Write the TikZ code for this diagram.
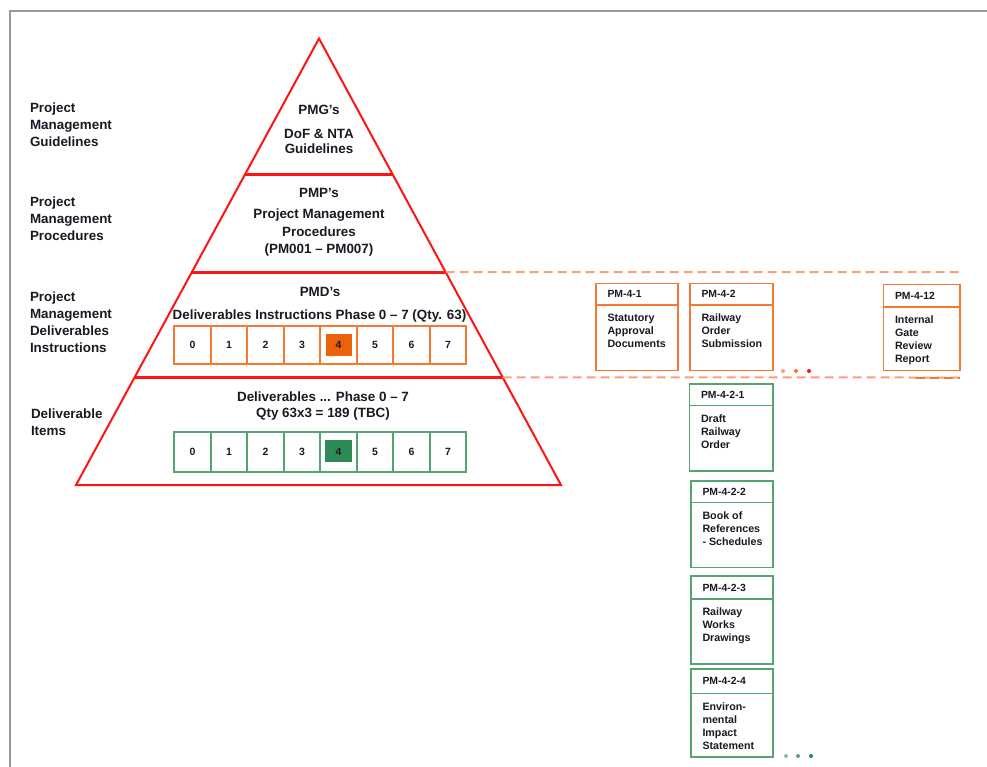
\documentclass[tikz,border=0pt]{standalone}
\usepackage{fontspec}
\setmainfont{Liberation Sans}
\usetikzlibrary{calc}

\definecolor{frameGrey}{RGB}{153,153,153}
\definecolor{tri}{RGB}{255,20,20}
\definecolor{dashO}{RGB}{250,160,125}
\definecolor{boxO}{RGB}{244,122,48}
\definecolor{fillO}{RGB}{236,98,10}
\definecolor{boxG}{RGB}{84,164,114}
\definecolor{fillG}{RGB}{46,139,87}
\definecolor{ink}{RGB}{25,25,35}

% bold text at a given size and line spacing
\newcommand\fs[2]{\fontsize{#1}{#2}\selectfont\bfseries}

% a document box: name, colour, left, top, right, bottom, divider y, code, title
\newcommand\pmbox[9]{%
  \node[draw=#2, pmframe, minimum width={#5-#3}, minimum height={#6-#4}]
    (#1) at ({(#3+#5)/2},{(#4+#6)/2}) {};
  \draw[#2, pmframe] (#1.west |- 0,#7) -- (#1.east |- 0,#7);
  \node[hdr, anchor=west] (#1-h) at ({#3+11.5},{(#4+#7)/2}) {#8};
  \node[body, anchor=north west] (#1-b) at ({#3+11.5},{#7+9}) {#9};
}

\begin{document}
\begin{tikzpicture}[x=1pt,y=-1pt,
  every node/.style={inner sep=0pt, outer sep=0pt, text=ink},
  side/.style={font=\fs{13.4}{16.8}, align=left, anchor=north west},
  tier/.style={font=\fs{13.4}{16}, align=center},
  pmframe/.style={line width=1.8pt},
  hdr/.style={font=\fs{10.4}{12}},
  body/.style={font=\fs{10.7}{13}, align=left},
  ocell/.style={draw=boxO, line width=1.7pt, minimum width=36.5pt,
    minimum height=38pt, font=\fs{10.5}{12}},
  gcell/.style={draw=boxG, line width=1.7pt, minimum width=36.5pt,
    minimum height=40pt, font=\fs{10.5}{12}},
  divider/.style={tri, line width=3pt},
  guide/.style={dashO, line width=2pt, dash pattern=on 9pt off 5pt}
]
\useasboundingbox (0,0) rectangle (987,767);

% page frame
\draw[frameGrey, line width=2.2pt] (987,11) -- (10,11) -- (10,767);

% pyramid
\coordinate (apex) at (319,38.5);
\coordinate (bl) at (76,485);
\coordinate (br) at (561,485);
\draw[tri, line width=2pt, line join=miter] (apex) -- (br) -- (bl) -- cycle;
\foreach \f/\n in {0.3046/a,0.5230/b,0.7592/c} {
  \coordinate (L\n) at ($(apex)!\f!(bl)$);
  \coordinate (R\n) at ($(apex)!\f!(br)$);
  \draw[divider] (L\n) -- (R\n);
}

% guide lines out to the deliverable documents
\coordinate (guideB) at (960,272);
\coordinate (guideC) at (960,377.5);
\coordinate (guideCs) at (916,377.5);
\draw[guide] (Rb) -- (guideB);
\draw[guide] (Rc) -- (guideC);
\draw[boxO, line width=2pt, dash pattern=on 9pt off 5pt] (guideCs) -- (guideC);

% tier names
\node[side] (lblPMG) at (30,103.2) {Project\\Management\\Guidelines};
\node[side] (lblPMP) at (30,197.2) {Project\\Management\\Procedures};
\node[side] (lblPMD) at (30,292.2) {Project\\Management\\Deliverables\\Instructions};
\node[side] (lblDI) at (31,409.2) {Deliverable\\Items};

% pyramid texts
\node[tier, anchor=base] (pmg) at (319,114.8) {PMG’s};
\node[tier, anchor=north, font=\fs{13.4}{15.5}] (pmgT) at (319,129.1) {DoF \& NTA\\Guidelines};
\node[tier, anchor=base] (pmp) at (319,197.8) {PMP’s};
\node[tier, anchor=north, font=\fs{13.4}{17.5}] (pmpT) at (319,209.1)
  {Project Management\\Procedures\\(PM001 – PM007)};
\node[tier, anchor=base] (pmd) at (320,296.8) {PMD’s};
\node[tier, anchor=base] (pmdT) at (319.5,319.8) {Deliverables Instructions Phase 0 – 7 (Qty. 63)};
\node[tier, anchor=north] (delT) at (323,392.1) {Deliverables ... Phase 0 – 7\\Qty 63x3 = 189 (TBC)};

% phase rows
\node[fill=fillO, minimum width=26pt, minimum height=22pt] (o4fill) at (338.5,345) {};
\node[fill=fillG, minimum width=27pt, minimum height=22pt] (g4fill) at (338.5,451) {};
\foreach \i in {0,...,7} {
  \node[ocell] (o\i) at ({192.55+36.5*\i},345) {\i};
  \node[gcell] (g\i) at ({192.55+36.5*\i},452) {\i};
}

% deliverable instruction documents
\pmbox{pm41}{boxO}{596}{283.5}{678}{370.5}{305}{PM-4-1}{Statutory\\Approval\\Documents}
\pmbox{pm42}{boxO}{690}{283.5}{773}{370.5}{305}{PM-4-2}{Railway\\Order\\Submission}
\pmbox{pm412}{boxO}{883.5}{284.5}{960}{370.5}{307}{PM-4-12}{Internal\\Gate\\Review\\Report}

% deliverable items under PM-4-2
\pmbox{pm421}{boxG}{689.5}{384}{773}{471}{405.5}{PM-4-2-1}{Draft\\Railway\\Order}
\pmbox{pm422}{boxG}{691}{481}{773}{567.5}{502.5}{PM-4-2-2}{Book of\\References\\- Schedules}
\pmbox{pm423}{boxG}{691}{576}{773}{664}{599}{PM-4-2-3}{Railway\\Works\\Drawings}
\pmbox{pm424}{boxG}{691}{669}{773}{757}{693.5}{PM-4-2-4}{Environ-\\mental\\Impact\\Statement}

% continuation dots
\fill[boxO!70] (783,371) circle (2);
\fill[boxO] (796,371) circle (2);
\fill[red!80!boxO] (809,371) circle (2);
\fill[boxG!70] (786,756) circle (2);
\fill[boxG] (798,756) circle (2);
\fill[teal!80!boxG] (811,756) circle (2);
\end{tikzpicture}
\end{document}
